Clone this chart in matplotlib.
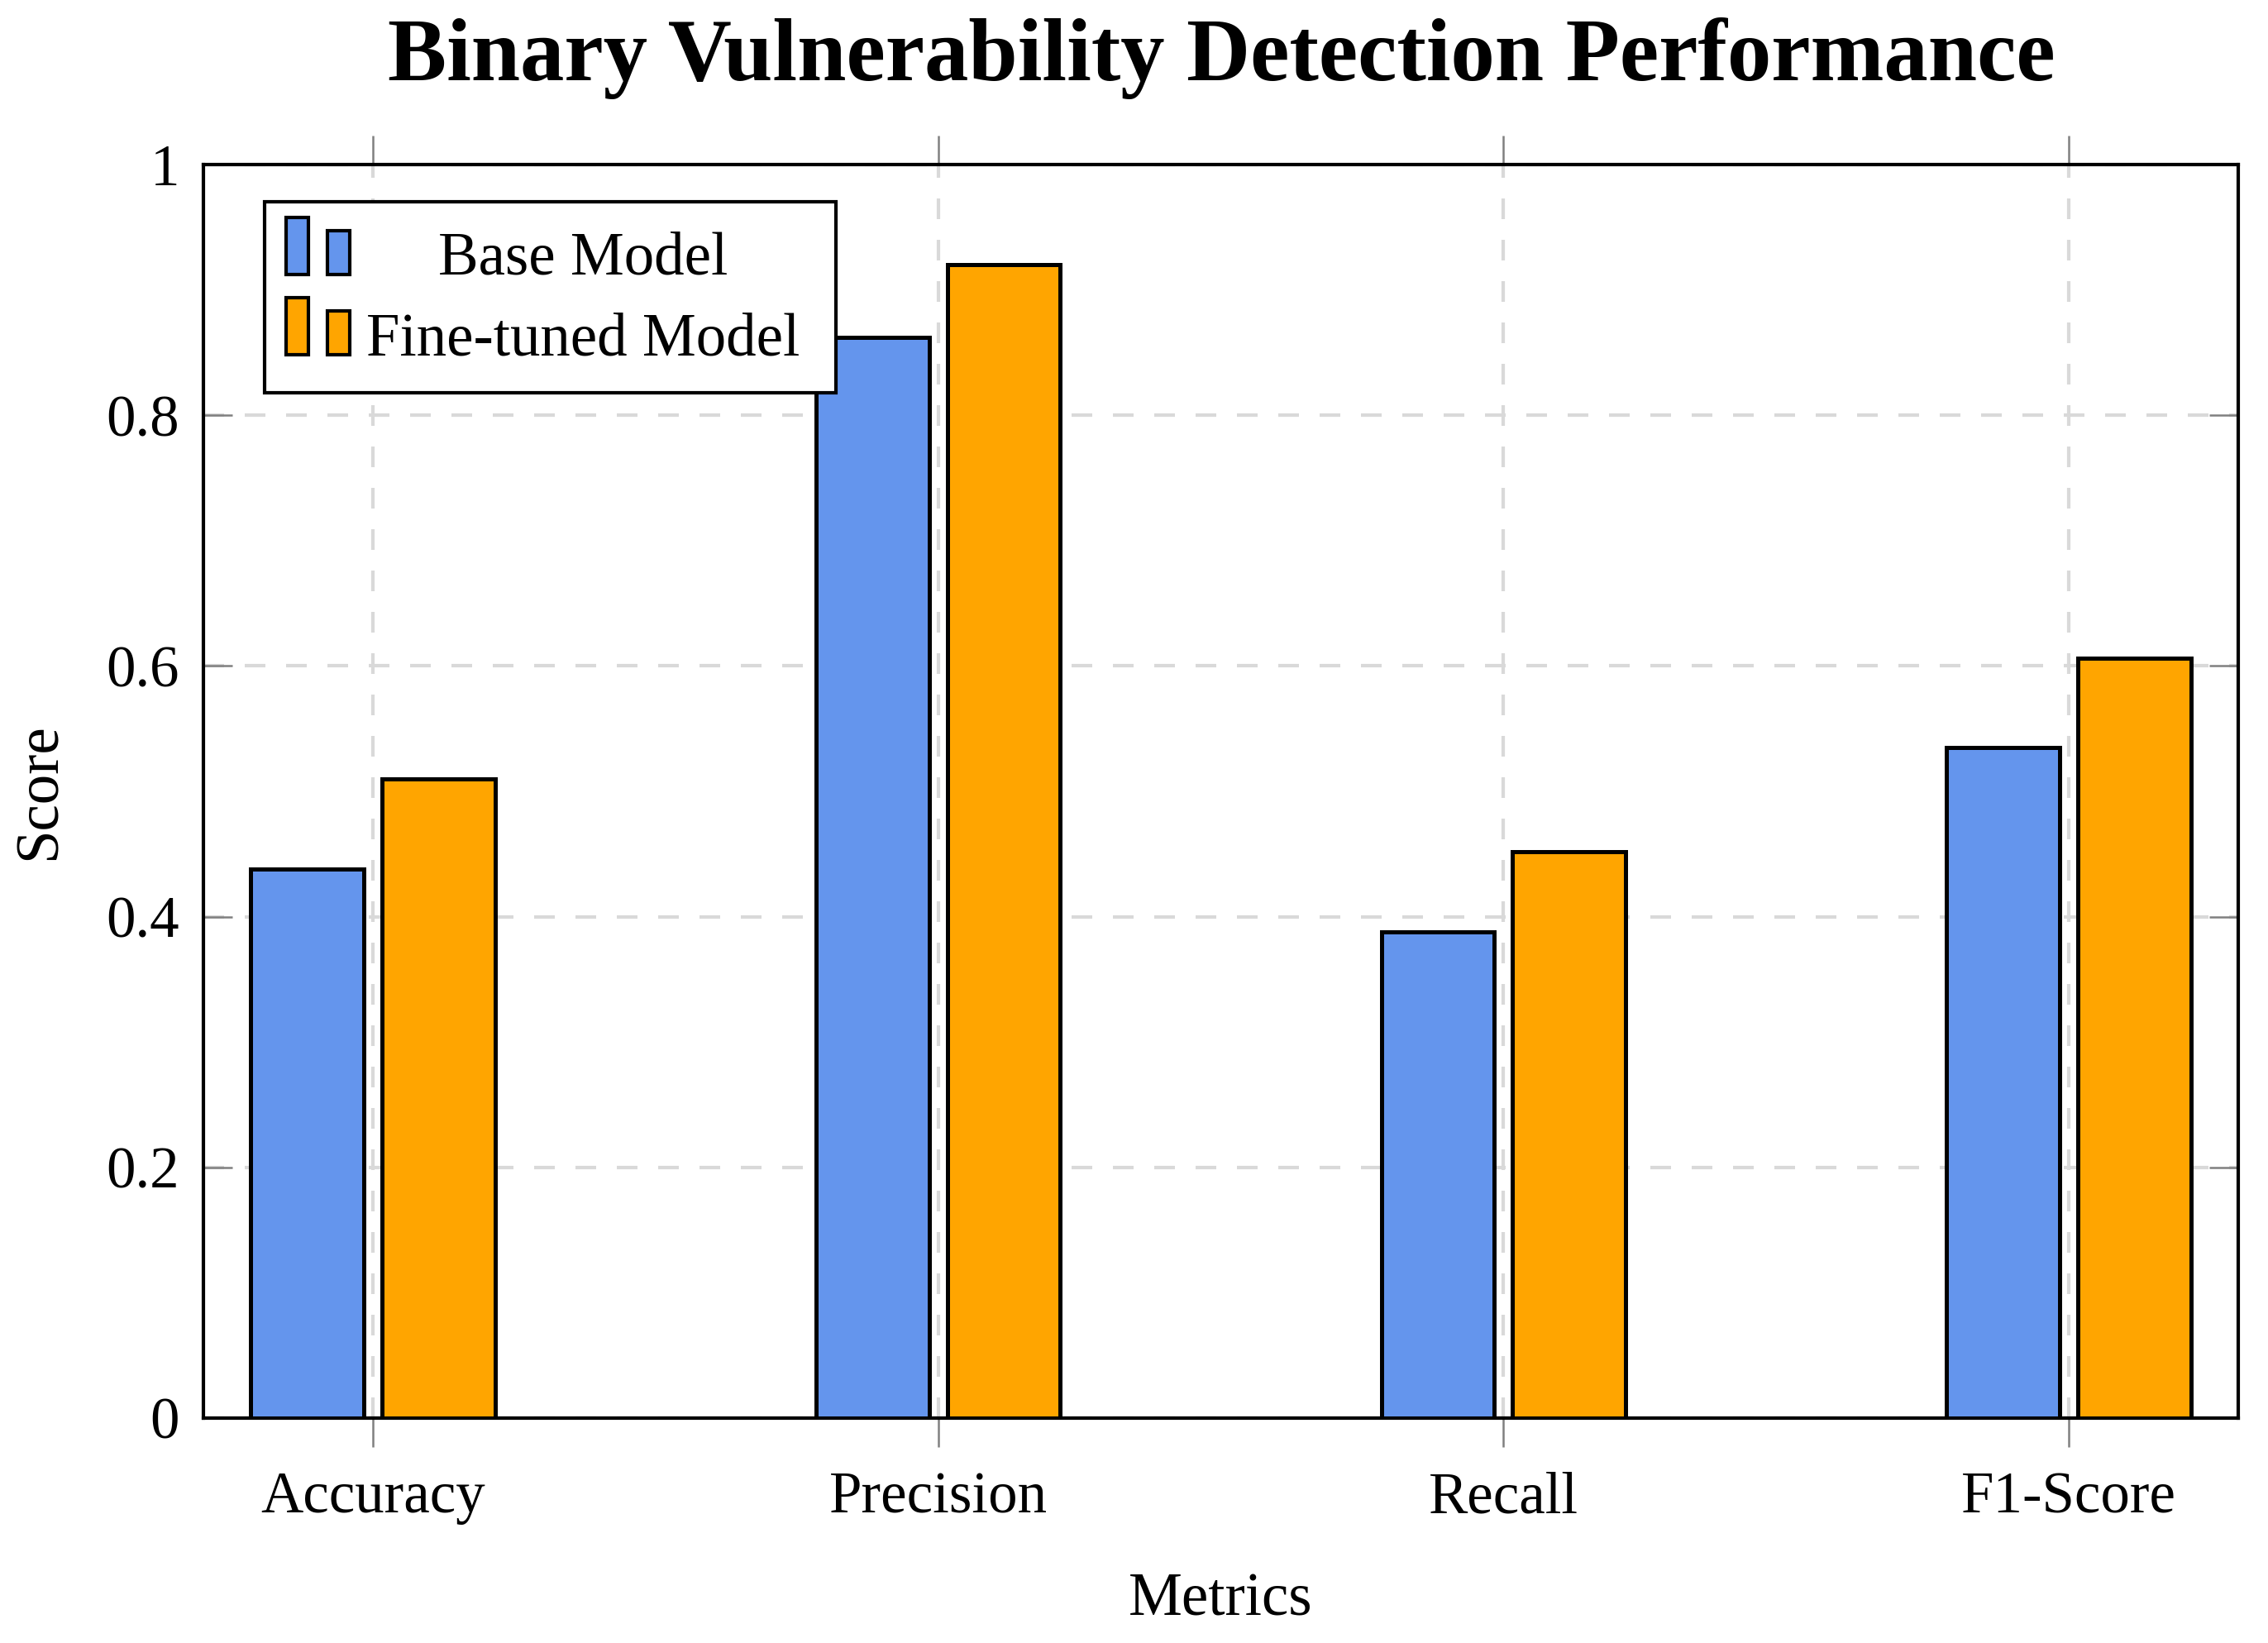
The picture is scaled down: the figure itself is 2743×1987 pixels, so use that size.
import matplotlib
matplotlib.use("Agg")
import matplotlib.pyplot as plt
import numpy as np
from matplotlib.patches import Rectangle

# values
metrics = ["Accuracy", "Precision", "Recall", "F1-Score"]
base_scores = [0.438, 0.862, 0.388, 0.535]
tuned_scores = [0.510, 0.920, 0.452, 0.606]
series_names = ["Base Model", "Fine-tuned Model"]
yticks = [0, 0.2, 0.4, 0.6, 0.8, 1]
ytick_labels = ["0", "0.2", "0.4", "0.6", "0.8", "1"]

BLUE = "#6495ED"
ORANGE = "#FFA500"

plt.rcParams["font.family"] = ["Liberation Serif", "DejaVu Serif"]

fig = plt.figure(figsize=(2743 / 300, 1987 / 300), dpi=300)
ax = fig.add_axes([0.0897, 0.1369, 0.8972, 0.763])

x = np.arange(len(metrics))
w = 0.2
off = 0.116
ax.bar(x - off, base_scores, w, color=BLUE, edgecolor="black", linewidth=1.2, zorder=3)
ax.bar(x + off, tuned_scores, w, color=ORANGE, edgecolor="black", linewidth=1.2, zorder=3)

ax.set_xlim(-0.30, 3.30)
ax.set_ylim(0, 1)
ax.set_xticks(x)
ax.set_xticklabels(metrics)
ax.set_yticks(yticks)
ax.set_yticklabels(ytick_labels)

ax.set_axisbelow(True)
ax.grid(True, color="#d9d9d9", linestyle=(0, (6, 6)), linewidth=1.0, zorder=0)

for s in ax.spines.values():
    s.set_linewidth(1.0)

ax.tick_params(axis="y", direction="in", left=True, right=True, length=8.4,
               width=0.6, color="gray", labelsize=17, pad=7)
ax.tick_params(axis="x", direction="out", top=True, bottom=True, length=8.4,
               width=0.6, color="gray", labelsize=17, pad=7)

ax.set_xlabel("Metrics", fontsize=17.5, labelpad=14)
ax.set_ylabel("Score", fontsize=17.5, labelpad=11)

fig.text(0.5385, 0.951, "Binary Vulnerability Detection Performance",
         ha="center", va="baseline", fontsize=25.6, fontweight="bold")

# legend box drawn by hand (pgfplots style: two small bars, centred text)
tr = ax.transAxes
ax.add_patch(Rectangle((0.0301, 0.818), 0.2807, 0.1523, transform=tr,
                       facecolor="white", edgecolor="black", linewidth=1.0, zorder=5))
rows = [(BLUE, 0.9123, series_names[0]), (ORANGE, 0.8480, series_names[1])]
for col, yb, name in rows:
    ax.add_patch(Rectangle((0.0406, yb), 0.0110, 0.0455, transform=tr,
                           facecolor=col, edgecolor="black", linewidth=1.0, zorder=6))
    ax.add_patch(Rectangle((0.0610, yb), 0.0110, 0.0350, transform=tr,
                           facecolor=col, edgecolor="black", linewidth=1.0, zorder=6))
    ax.text(0.1865, yb, name, transform=tr, ha="center", va="baseline",
            fontsize=17.5, zorder=7)

fig.savefig("out.png", dpi=300)
